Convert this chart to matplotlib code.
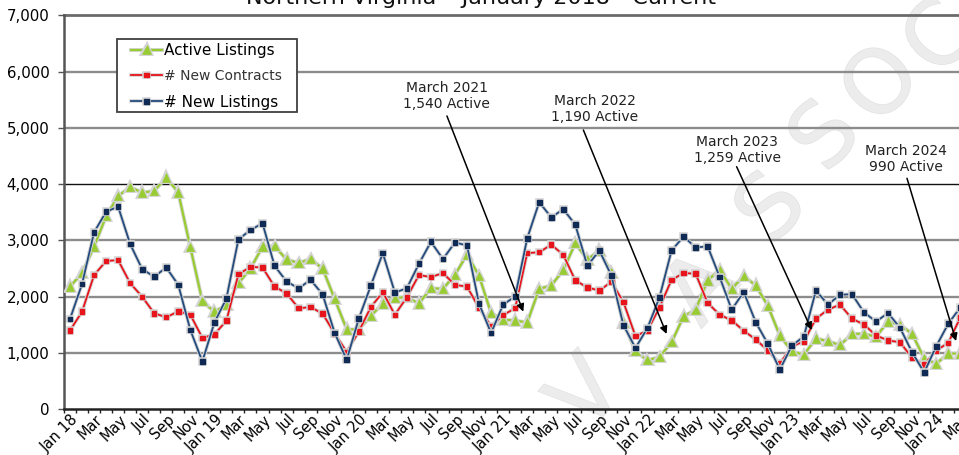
import matplotlib
matplotlib.use("Agg")
import matplotlib.pyplot as plt
import matplotlib.patheffects as pe
from matplotlib.patches import Rectangle
import numpy as np

plt.rcParams['font.family'] = ['DejaVu Sans']

title = "Northern Virginia \u2013 January 2018 - Current"

# Monthly values, Jan 2018 .. Mar 2024
active = [2180, 2420, 2890, 3430, 3790, 3950, 3850, 3880, 4120, 3850, 2880, 1920,
          1735, 1850, 2240, 2500, 2890, 2900, 2660, 2600, 2670, 2500, 1960, 1420,
          1420, 1660, 1880, 1980, 1990, 1880, 2150, 2140, 2390, 2750, 2370, 1710,
          1590, 1580, 1540, 2140, 2200, 2470, 2950, 2660, 2820, 2430, 1540, 1030,
          870, 930, 1190, 1650, 1770, 2290, 2480, 2140, 2370, 2200, 1840, 1310,
          1030, 970, 1259, 1210, 1140, 1340, 1340, 1290, 1560, 1500, 1340, 905,
          810, 990, 990]
new_contracts = [1400, 1735, 2385, 2635, 2650, 2240, 2000, 1705, 1635, 1740, 1680, 1270,
                 1330, 1575, 2400, 2530, 2520, 2180, 2060, 1795, 1815, 1700, 1345, 1020,
                 1380, 1815, 2080, 1680, 1990, 2385, 2350, 2420, 2210, 2180, 1800, 1475,
                 1675, 1795, 2775, 2790, 2925, 2745, 2290, 2165, 2110, 2265, 1905, 1300,
                 1400, 1810, 2300, 2420, 2410, 1890, 1680, 1580, 1395, 1240, 1045, 810,
                 1120, 1205, 1610, 1770, 1860, 1610, 1505, 1310, 1225, 1190, 910, 795,
                 1045, 1180, 1630]
new_listings = [1605, 2225, 3145, 3510, 3600, 2935, 2490, 2355, 2520, 2210, 1410, 850,
                1540, 1970, 3020, 3185, 3305, 2550, 2270, 2150, 2300, 2040, 1355, 880,
                1610, 2195, 2775, 2075, 2150, 2585, 2975, 2670, 2965, 2910, 1875, 1355,
                1860, 2005, 3035, 3680, 3410, 3555, 3280, 2550, 2820, 2375, 1495, 1090,
                1445, 1990, 2820, 3070, 2875, 2895, 2350, 1770, 2085, 1545, 1165, 705,
                1130, 1295, 2110, 1860, 2035, 2045, 1720, 1560, 1710, 1445, 1010, 655,
                1120, 1520, 1810]

tick_labels = ['Jan 18', 'Mar', 'May', 'Jul', 'Sep', 'Nov',
               'Jan 19', 'Mar', 'May', 'Jul', 'Sep', 'Nov',
               'Jan 20', 'Mar', 'May', 'Jul', 'Sep', 'Nov',
               'Jan 21', 'Mar', 'May', 'Jul', 'Sep', 'Nov',
               'Jan 22', 'Mar', 'May', 'Jul', 'Sep', 'Nov',
               'Jan 23', 'Mar', 'May', 'Jul', 'Sep', 'Nov',
               'Jan 24', 'Mar']

y_ticks = [0, 1000, 2000, 3000, 4000, 5000, 6000, 7000]

notes = ["March 2021\n1,540 Active", "March 2022\n1,190 Active",
         "March 2023\n1,259 Active", "March 2024\n990 Active"]

W, H = 959, 455
fig = plt.figure(figsize=(W / 100, H / 100), dpi=100)
ax = fig.add_axes([64 / W, 1 - 409.3 / H, 902.3 / W, 394 / H])

def fx(px):
    return px / W

def fy(py):
    return 1 - py / H

# watermark
wm_letters = [('V', 588, 396), ('A', 703, 290), ('S', 773, 210),
              ('S', 827, 138), ('O', 883, 86), ('C', 942, 40)]
for ch, px, py in wm_letters:
    ax.text(fx(px), fy(py), ch, transform=fig.transFigure, fontsize=64,
            color='#ececec', rotation=48, ha='center', va='center',
            zorder=0.5, clip_on=False,
            path_effects=[pe.withStroke(linewidth=1.0, foreground='#e2e2e2')])

x = np.arange(len(active))
ax.set_xlim(-0.5, len(active) - 0.5)
ax.set_ylim(0, 7000)

# grid
for v in y_ticks[1:]:
    if v == 4000:
        ax.axhline(v, color='#111111', lw=1.0, zorder=1)
    elif v == 7000:
        ax.axhline(v, color='#6a6a6a', lw=2.0, zorder=1, clip_on=False)
    else:
        ax.axhline(v, color='#8c8c8c', lw=1.7, zorder=1)

def halo(w):
    return [pe.Stroke(linewidth=w, foreground='#d4d4d4'), pe.Normal()]

h1, = ax.plot(x, active, color='#99CC33', lw=1.6, marker='^', ms=6,
              mfc='#99CC33', mec='#99CC33', mew=0.5, zorder=3,
              path_effects=halo(2.8), label='Active Listings')
h2, = ax.plot(x, new_contracts, color='#E8141C', lw=1.3, marker='s', ms=3.2,
              mfc='#E8141C', mec='#E8141C', zorder=4,
              path_effects=halo(2.6), label='# New Contracts')
h3, = ax.plot(x, new_listings, color='#244C7E', lw=1.3, marker='s', ms=3.4,
              mfc='#0E2A55', mec='#0E2A55', zorder=5,
              path_effects=halo(2.6), label='# New Listings')

# axes styling
for s in ['top', 'right']:
    ax.spines[s].set_visible(False)
ax.spines['left'].set_color('#555555')
ax.spines['left'].set_linewidth(1.8)
ax.spines['bottom'].set_color('#222222')
ax.spines['bottom'].set_linewidth(1.8)

ax.set_yticks(y_ticks)
ax.set_yticklabels([f"{v:,}" for v in y_ticks])
ax.tick_params(axis='y', direction='out', length=4, width=1, color='#555555',
               pad=6.5, labelsize=10.8, labelcolor='black')

ax.xaxis.remove_overlapping_locs = False
ax.set_xticks(np.arange(-0.5, len(active), 1))
ax.set_xticklabels([])
ax.tick_params(axis='x', which='major', direction='out', length=3.2, width=1,
               color='#222222')
ax.set_xticks(np.arange(0, len(active), 2) + 0.5, minor=True)
ax.set_xticklabels(tick_labels, minor=True)
ax.tick_params(axis='x', which='minor', length=0, pad=5.5, labelsize=10.5)
for lbl in ax.get_xticklabels(minor=True):
    lbl.set_rotation(45)
    lbl.set_ha('right')
    lbl.set_va('center')
    lbl.set_rotation_mode('anchor')

# legend
ax.add_patch(Rectangle((fx(117), fy(112)), 180 / W, 73 / H, transform=fig.transFigure,
                       facecolor='white', edgecolor='#404040', lw=1.3, zorder=6,
                       clip_on=False))
leg = ax.legend(handles=[h1, h2, h3], loc='upper left', frameon=False,
                bbox_to_anchor=(fx(131), fy(43)), bbox_transform=fig.transFigure,
                borderpad=0, borderaxespad=0, handlelength=2.05, handletextpad=0.1,
                labelspacing=0.74, prop={'size': 11})
leg.set_zorder(7)
leg.get_texts()[1].set_fontsize(10)
leg.get_texts()[1].set_color('#333333')

# annotations (text centre, arrow tail, arrow tip in data coords)
ann_pos = [((31.3, 5566), (31.33, 5211), (37.68, 1734)),
           ((43.6, 5335), (42.67, 4962), (49.59, 1338)),
           ((55.47, 4606), (55.41, 4310), (61.65, 1409)),
           ((69.5, 4447), (69.57, 4104), (73.65, 1213))]
for txt, (tp, tail, tip) in zip(notes, ann_pos):
    ax.text(tp[0], tp[1], txt, fontsize=10, color='#222222', ha='center',
            va='center', multialignment='center', linespacing=1.12, zorder=8)
    ax.annotate('', xy=tip, xytext=tail, zorder=8,
                arrowprops=dict(arrowstyle='-|>', color='black', lw=1.1,
                                mutation_scale=11, shrinkA=0, shrinkB=0))

fig.text(fx(481), fy(4), title, ha='center', va='baseline', fontsize=16,
         color='#111111')

fig.savefig('out.png', dpi=100)
